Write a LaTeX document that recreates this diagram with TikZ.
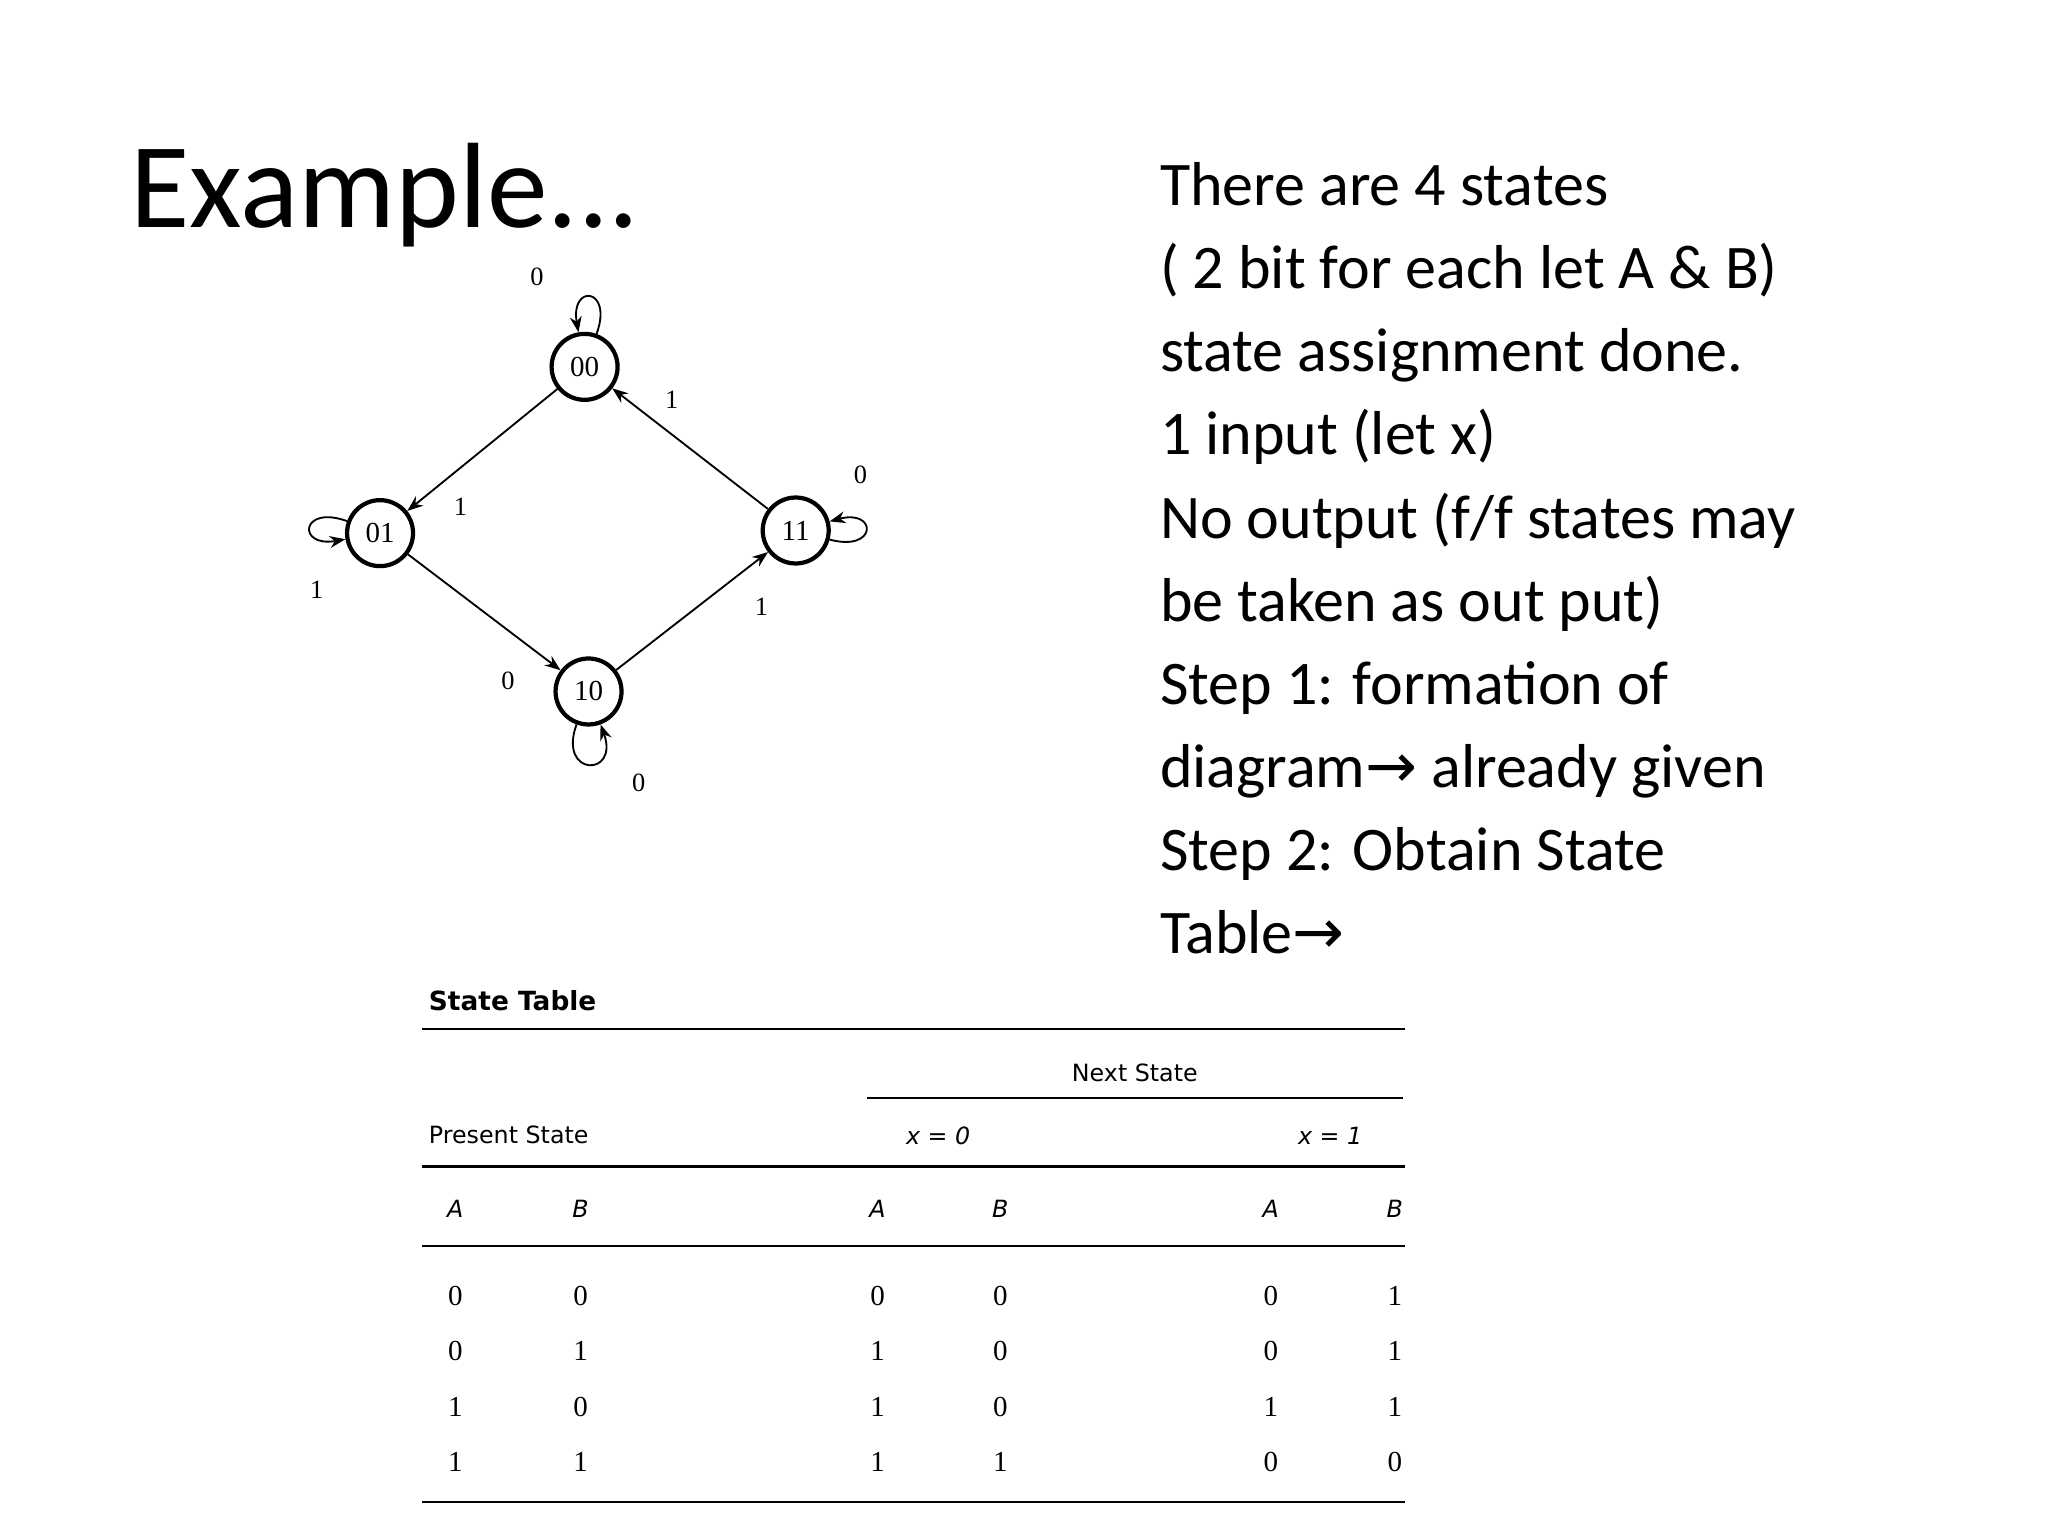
\documentclass[tikz,border=0pt]{standalone}
\usepackage{fontspec}
\setmainfont{Carlito}
\newfontfamily\serifb{Liberation Serif}
\newfontfamily\sansb{DejaVu Sans}
\usetikzlibrary{arrows.meta}
\begin{document}
\begin{tikzpicture}[x=0.5pt,y=-0.5pt,
  st/.style={circle,draw,line width=1.6pt,minimum size=25pt,inner sep=0pt,font=\serifb\fontsize{11}{11}\selectfont},
  lb/.style={font=\serifb\fontsize{10}{10}\selectfont},
  ed/.style={-{Stealth[length=6pt]},line width=0.7pt},
  tl/.style={line width=0.8pt},
  tt/.style={font=\sansb\fontsize{9}{9}\selectfont},
  tn/.style={font=\serifb\fontsize{11}{11}\selectfont}]
\useasboundingbox (0,0) rectangle (1552,1164);
\node[anchor=west,font=\fontsize{46}{46}\selectfont] (title) at (92,148) {Example...};
\node[anchor=north west,align=left,font=\fontsize{23.5}{31.5}\selectfont] (txt) at (872,116)
 {There are 4 states\\( 2 bit for each let A \& B)\\state assignment done.\\1 input (let x)\\No output (f/f states may\\be taken as out put)\\Step 1: formation of\\diagram{\sansb →} already given\\Step 2: Obtain State\\Table{\sansb →}};
% state diagram
\node[st] (s00) at (443,278) {00};
\node[st] (s01) at (288,404) {01};
\node[st] (s11) at (603,402) {11};
\node[st] (s10) at (446,524) {10};
\draw[ed] (s00) -- (s01);
\draw[ed] (s01) -- (s10);
\draw[ed] (s10) -- (s11);
\draw[ed] (s11) -- (s00);
\draw[ed] (s00) to[out=70,in=100,looseness=7] (s00);
\draw[ed] (s01) to[out=160,in=190,looseness=7] (s01);
\draw[ed] (s11) to[out=-15,in=15,looseness=7] (s11);
\draw[ed] (s10) to[out=-110,in=-70,looseness=6] (s10);
\node[lb] (l1) at (407,210) {0};
\node[lb] (l2) at (509,303) {1};
\node[lb] (l3) at (349,384) {1};
\node[lb] (l4) at (240,447) {1};
\node[lb] (l5) at (652,360) {0};
\node[lb] (l6) at (577,460) {1};
\node[lb] (l7) at (385,516) {0};
\node[lb] (l8) at (484,593) {0};
% table
\node[anchor=west,font=\sansb\bfseries\fontsize{10}{10}\selectfont] (ttl) at (318,758) {State Table};
\draw[tl] (320,780) -- (1065,780);
\node[tt] (ns) at (860,813) {Next State};
\draw[tl] (657,832) -- (1063,832);
\node[tt,anchor=west] (ps) at (318,860) {Present State};
\node[tt] (x0) at (711,861) {\itshape x = 0};
\node[tt] (x1) at (1008,861) {\itshape x = 1};
\draw[tl] (320,884) -- (1065,884);
\foreach \x [count=\i] in {345,440,665,758,963,1057}
  \node[tt] (h\i) at (\x,916) {\ifodd\i\itshape A\else\itshape B\fi};
\draw[tl] (320,944) -- (1065,944);
\foreach \y/\r in {982/{0,0,0,0,0,1},1024/{0,1,1,0,0,1},1066/{1,0,1,0,1,1},1108/{1,1,1,1,0,0}}{
  \foreach \v [count=\j] in \r {
    \pgfmathsetmacro\xx{{345,440,665,758,963,1057}[\j-1]}
    \node[tn] at (\xx,\y) {\v};
  }
}
\draw[tl] (320,1138) -- (1065,1138);
\end{tikzpicture}
\end{document}
